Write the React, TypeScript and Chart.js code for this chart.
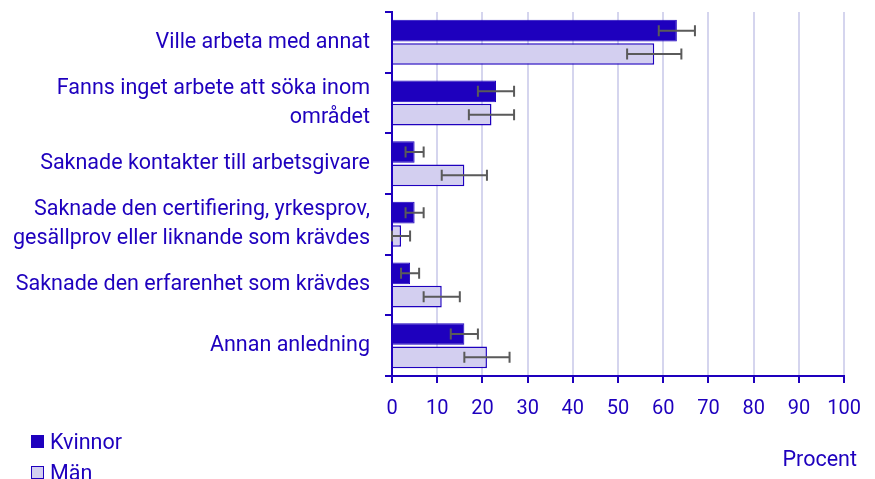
import React, { useEffect, useRef } from "react";
import { Chart, registerables } from "chart.js";

Chart.register(...registerables);

const categories: (string | string[])[] = [
  "Ville arbeta med annat",
  ["Fanns inget arbete att söka inom", "området"],
  "Saknade kontakter till arbetsgivare",
  ["Saknade den certifiering, yrkesprov,", "gesällprov eller liknande som krävdes"],
  "Saknade den erfarenhet som krävdes",
  "Annan anledning",
];

const seriesNames = ["Kvinnor", "Män"];

const kvinnor = [63, 23, 5, 5, 4, 16];
const kvinnorLow = [59, 19, 3, 3, 2, 13];
const kvinnorHigh = [67, 27, 7, 7, 6, 19];

const man = [58, 22, 16, 2, 11, 21];
const manLow = [52, 17, 11, 0, 7, 16];
const manHigh = [64, 27, 21, 4, 15, 26];

const xMin = 0;
const xMax = 100;
const xStep = 10;
const axisTitle = "Procent";

const BLUE = "#1e00be";
const LAVENDER = "#d3cff0";
const GRID = "#d5d5ee";
const ERR = "#5a5a5a";
const FONT = "Roboto";
const LABEL_SIZE = 21.5;

const errorBarPlugin = {
  id: "errorBars",
  afterDatasetsDraw(chart: any) {
    const ctx = chart.ctx;
    const xs = chart.scales.x;
    chart.data.datasets.forEach((ds: any, di: number) => {
      const meta = chart.getDatasetMeta(di);
      meta.data.forEach((bar: any, i: number) => {
        const y = bar.y;
        const x1 = xs.getPixelForValue(ds.errLow[i]);
        const x2 = xs.getPixelForValue(ds.errHigh[i]);
        const h = 5.5;
        ctx.save();
        ctx.strokeStyle = ERR;
        ctx.lineWidth = 2;
        ctx.beginPath();
        ctx.moveTo(x1, y);
        ctx.lineTo(x2, y);
        ctx.moveTo(x1, y - h);
        ctx.lineTo(x1, y + h);
        ctx.moveTo(x2, y - h);
        ctx.lineTo(x2, y + h);
        ctx.stroke();
        ctx.restore();
      });
    });
  },
};

const legendPlugin = {
  id: "customLegend",
  afterDraw(chart: any) {
    const ctx = chart.ctx;
    ctx.save();
    ctx.font = `${LABEL_SIZE}px ${FONT}`;
    ctx.textBaseline = "alphabetic";
    ctx.textAlign = "left";
    const items = [
      { name: seriesNames[0], fill: BLUE, y: 435 },
      { name: seriesNames[1], fill: LAVENDER, y: 466 },
    ];
    items.forEach((it) => {
      ctx.fillStyle = it.fill;
      ctx.fillRect(31, it.y, 13, 13);
      ctx.strokeStyle = BLUE;
      ctx.lineWidth = 1;
      ctx.strokeRect(31.5, it.y + 0.5, 12, 12);
      ctx.fillStyle = BLUE;
      ctx.fillText(it.name, 50, it.y + 14);
    });
    ctx.textAlign = "right";
    ctx.fillText(axisTitle, 857, 466);
    ctx.restore();
  },
};

export default function App() {
  const ref = useRef<HTMLCanvasElement>(null);

  useEffect(() => {
    if (!ref.current) return;
    const chart = new Chart(ref.current, {
      type: "bar",
      data: {
        labels: categories as any,
        datasets: [
          {
            label: seriesNames[0],
            data: kvinnor,
            backgroundColor: BLUE,
            borderColor: BLUE,
            borderWidth: 1,
            errLow: kvinnorLow,
            errHigh: kvinnorHigh,
          } as any,
          {
            label: seriesNames[1],
            data: man,
            backgroundColor: LAVENDER,
            borderColor: BLUE,
            borderWidth: 1.5,
            errLow: manLow,
            errHigh: manHigh,
          } as any,
        ],
      },
      options: {
        indexAxis: "y",
        responsive: false,
        animation: false,
        maintainAspectRatio: false,
        categoryPercentage: 0.77,
        barPercentage: 0.93,
        layout: { padding: { top: 12, right: 30, bottom: 63, left: 0 } },
        plugins: {
          legend: { display: false },
          tooltip: { enabled: false },
        },
        scales: {
          x: {
            type: "linear",
            position: "bottom",
            min: xMin,
            max: xMax,
            ticks: {
              stepSize: xStep,
              color: BLUE,
              font: { family: FONT, size: 20 },
              padding: 14,
            },
            grid: {
              color: GRID,
              lineWidth: 2,
              tickColor: BLUE,
              tickLength: 7,
              drawTicks: true,
            },
            border: { color: BLUE, width: 2 },
            afterFit: (s: any) => {
              s.height = 40;
            },
          },
          y: {
            type: "category",
            position: "left",
            ticks: {
              color: BLUE,
              font: { family: FONT, size: LABEL_SIZE, lineHeight: 1.35 },
              padding: 15,
              autoSkip: false,
            },
            grid: {
              drawOnChartArea: false,
              drawTicks: true,
              tickLength: 7,
              tickColor: BLUE,
              lineWidth: 2,
              offset: true,
            },
            border: { color: BLUE, width: 2 },
            afterFit: (s: any) => {
              s.width = 392;
              s.paddingTop = 0;
              s.paddingBottom = 0;
            },
          },
        },
      } as any,
      plugins: [errorBarPlugin, legendPlugin],
    });
    return () => chart.destroy();
  }, []);

  return (
    <div style={{ position: "fixed", left: 0, top: 0, width: 875, height: 479, background: "#fff" }}>
      <canvas ref={ref} width={875} height={479} />
    </div>
  );
}
